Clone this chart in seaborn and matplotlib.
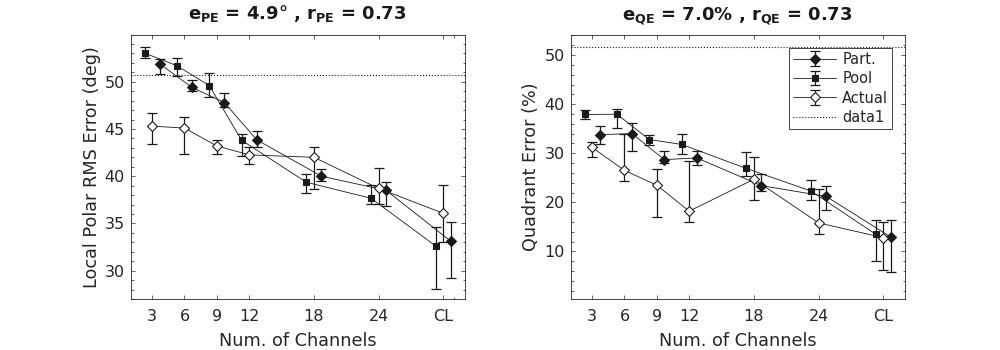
import numpy as np
import matplotlib
matplotlib.use("Agg")
import matplotlib.pyplot as plt
import seaborn as sns
from matplotlib.container import ErrorbarContainer
from matplotlib.lines import Line2D

# Data
channels = [3, 6, 9, 12, 18, 24, 30]
tick_labels = ['3', '6', '9', '12', '18', '24', 'CL']

# Local polar RMS error (deg)
pe_part = [51.9, 49.4, 47.8, 43.85, 40.0, 38.5, 33.1]
pe_part_lo = [50.85, 48.97, 47.3, 43.1, 39.53, 36.8, 29.2]
pe_part_hi = [52.4, 50.14, 48.8, 44.8, 40.74, 39.36, 35.1]
pe_pool = [53.04, 51.7, 49.6, 43.8, 39.36, 37.66, 32.6]
pe_pool_lo = [52.5, 50.64, 48.4, 42.1, 38.2, 37.06, 28.05]
pe_pool_hi = [53.7, 52.47, 50.9, 44.5, 40.2, 39.1, 34.66]
pe_act = [45.3, 45.1, 43.2, 42.26, 42.0, 38.7, 36.07]
pe_act_lo = [43.4, 42.4, 42.4, 41.27, 38.6, 37.1, 33.06]
pe_act_hi = [46.7, 46.3, 43.8, 43.1, 43.1, 40.85, 39.1]
pe_chance = 50.7

# Quadrant error (%)
qe_part = [33.8, 34.0, 28.7, 29.05, 23.4, 21.2, 12.9]
qe_part_lo = [31.8, 30.4, 28.0, 27.55, 22.3, 18.4, 5.8]
qe_part_hi = [35.6, 36.2, 30.5, 30.5, 25.7, 23.4, 16.5]
qe_pool = [37.9, 37.96, 32.8, 31.8, 26.9, 22.3, 13.47]
qe_pool_lo = [36.9, 35.2, 31.6, 29.8, 25.4, 20.4, 8.0]
qe_pool_hi = [38.8, 39.1, 33.8, 34.0, 30.3, 24.6, 16.5]
qe_act = [31.2, 26.5, 23.5, 18.2, 24.7, 15.8, 12.8]
qe_act_lo = [29.25, 24.35, 17.1, 16.0, 20.55, 13.5, 6.3]
qe_act_hi = [32.2, 33.9, 26.7, 28.4, 29.25, 22.65, 16.0]
qe_chance = 51.7

# horizontal jitter of the series around each channel count
shift = {'Part.': 0.7, 'Pool': -0.7, 'Actual': 0.0}
marker_style = {'Part.': dict(marker='D', markersize=5.5, markerfacecolor='k'),
                'Pool': dict(marker='s', markersize=5, markerfacecolor='k'),
                'Actual': dict(marker='D', markersize=5.5, markerfacecolor='white')}

sns.set_theme(style='ticks')
plt.rcParams['font.family'] = ['DejaVu Sans']
plt.rcParams.update({
    'xtick.direction': 'in', 'ytick.direction': 'in',
    'xtick.top': True, 'ytick.right': True,
    'xtick.major.size': 3, 'ytick.major.size': 3,
    'xtick.minor.size': 1.8, 'ytick.minor.size': 1.8,
    'xtick.major.width': 0.5, 'ytick.major.width': 0.5,
    'xtick.minor.width': 0.5, 'ytick.minor.width': 0.5,
    'xtick.major.pad': 7, 'ytick.major.pad': 4,
    'axes.linewidth': 0.6, 'axes.edgecolor': '#262626',
    'xtick.color': '#262626', 'ytick.color': '#262626',
    'axes.labelcolor': '#262626', 'mathtext.fontset': 'dejavusans',
})

fig = plt.figure(figsize=(10, 3.5), dpi=100)
ax1 = fig.add_axes([0.1305, 51 / 350, 0.3345, 264 / 350])
ax2 = fig.add_axes([0.5705, 51 / 350, 0.3345, 264 / 350])


def draw_series(ax, name, vals, lo, hi):
    x = np.array(channels) + shift[name]
    vals = np.array(vals)
    yerr = [vals - np.array(lo), np.array(hi) - vals]
    eb = ax.errorbar(x, vals, yerr=yerr, fmt='none', ecolor='k',
                     elinewidth=0.9, capsize=3.5, capthick=0.9, zorder=2)
    sns.lineplot(x=x, y=vals, ax=ax, color='k', linewidth=0.6,
                 markeredgecolor='k', markeredgewidth=0.8, estimator=None,
                 sort=False, zorder=3, **marker_style[name])
    line = ax.get_lines()[-1]
    return ErrorbarContainer((line, eb.lines[1], eb.lines[2]),
                             has_xerr=False, has_yerr=True, label=name)


def dress(ax, ylim, ylabel, title, chance, minor_step):
    ax.axhline(chance, color='k', linestyle=':', linewidth=0.8, zorder=1)
    ax.set_xlim(1, 32)
    ax.set_ylim(*ylim)
    ax.set_xticks(channels)
    ax.set_xticklabels(tick_labels, fontsize=11.5)
    ax.yaxis.set_minor_locator(matplotlib.ticker.MultipleLocator(minor_step))
    ax.tick_params(axis='y', labelsize=11.5)
    ax.set_xlabel('Num. of Channels', fontsize=12.7, labelpad=6)
    ax.set_ylabel(ylabel, fontsize=12.7, labelpad=3)
    ax.set_title(title, fontsize=13, fontweight='bold', color='k', pad=11.5)
    for s in ax.spines.values():
        s.set_visible(True)


# left panel
h_part = draw_series(ax1, 'Part.', pe_part, pe_part_lo, pe_part_hi)
h_pool = draw_series(ax1, 'Pool', pe_pool, pe_pool_lo, pe_pool_hi)
h_act = draw_series(ax1, 'Actual', pe_act, pe_act_lo, pe_act_hi)
dress(ax1, (27, 54.95), 'Local Polar RMS Error (deg)',
      r'$\mathbf{e}_{\mathbf{PE}}$ = 4.9° , $\mathbf{r}_{\mathbf{PE}}$ = 0.73',
      pe_chance, 1)
ax1.xaxis.set_minor_locator(matplotlib.ticker.FixedLocator([31]))

# right panel
h_part = draw_series(ax2, 'Part.', qe_part, qe_part_lo, qe_part_hi)
h_pool = draw_series(ax2, 'Pool', qe_pool, qe_pool_lo, qe_pool_hi)
h_act = draw_series(ax2, 'Actual', qe_act, qe_act_lo, qe_act_hi)
dress(ax2, (0.3, 54.1), 'Quadrant Error (%)',
      r'$\mathbf{e}_{\mathbf{QE}}$ = 7.0% , $\mathbf{r}_{\mathbf{QE}}$ = 0.73',
      qe_chance, 2)

dotted = Line2D([], [], color='k', linestyle=':', linewidth=0.8)
leg = ax2.legend([h_part, h_pool, h_act, dotted],
                 ['Part.', 'Pool', 'Actual', 'data1'],
                 loc='upper right', fontsize=10.5, frameon=True, fancybox=False,
                 edgecolor='#262626', framealpha=1, handlelength=3.0,
                 handletextpad=0.4, labelspacing=0.3, borderpad=0.25,
                 borderaxespad=0.9)
leg.get_frame().set_linewidth(0.6)

fig.savefig('out.png', dpi=100)
